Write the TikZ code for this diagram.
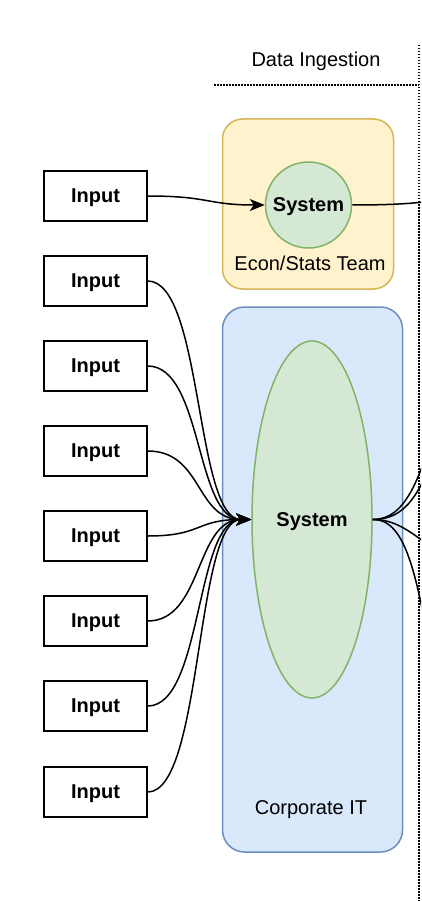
\documentclass[tikz,border=0pt]{standalone}
\usepackage{fontspec}
\setmainfont{Liberation Sans}
\usetikzlibrary{arrows.meta,shapes.geometric,calc}
\definecolor{yelfill}{HTML}{FFF2CC}
\definecolor{yeldraw}{HTML}{D6B656}
\definecolor{bluefill}{HTML}{DAE8FC}
\definecolor{bluedraw}{HTML}{6C8EBF}
\definecolor{grnfill}{HTML}{D5E8D4}
\definecolor{grndraw}{HTML}{82B366}
\begin{document}
\begin{tikzpicture}[x=1pt,y=-1pt,
  txt/.style={font=\fontsize{20}{24}\selectfont, inner sep=0pt, text depth=0pt},
  inbox/.style={draw=black, line width=1.5pt, fill=white, minimum width=103pt, minimum height=50pt, inner sep=0pt, text depth=0pt, font=\fontsize{20}{24}\selectfont\bfseries},
  grpY/.style={draw=yeldraw, fill=yelfill, line width=1.5pt, rounded corners=20pt, inner sep=0pt},
  grpB/.style={draw=bluedraw, fill=bluefill, line width=1.5pt, rounded corners=22pt, inner sep=0pt},
  sysnode/.style={draw=grndraw, fill=grnfill, line width=1.5pt, inner sep=0pt, text depth=0pt, font=\fontsize{20}{24}\selectfont\bfseries},
  conn/.style={draw=black, line width=1.5pt},
  arr/.style={conn, -{Stealth[length=15pt,width=12pt,inset=4pt]}},
  dotline/.style={draw=black, line width=1.5pt, dash pattern=on 1.5pt off 1.5pt}
]
\useasboundingbox (0,0) rectangle (421,901);
\clip (0,0) rectangle (421,901);

% groups
\node[grpY, minimum width=171pt, minimum height=170pt] (teamY) at (308,204) {};
\node[grpB, minimum width=180pt, minimum height=545pt] (teamB) at (312.5,579.5) {};
\node[txt] (lblEcon) at (310,263) {Econ/Stats Team};
\node[txt] (lblCorp) at (311,808) {Corporate IT};
\node[txt] (lblDI) at (316,59) {Data Ingestion};

% dotted separators
\coordinate (dv1) at (419,45);
\coordinate (dv2) at (419,905);
\coordinate (dh1) at (214,85);
\coordinate (dh2) at (419,85);
\draw[dotline] (dh1) -- (dh2);
\draw[dotline] (dv1) -- (dv2);

% systems
\node[sysnode, circle, minimum size=86pt] (sysA) at (308.5,205) {System};
\node[sysnode, ellipse, minimum width=120pt, minimum height=357pt] (sysB) at (312,519.5) {System};

% inputs
\node[inbox] (in1) at (95.5,196) {Input};
\node[inbox] (in2) at (95.5,281) {Input};
\node[inbox] (in3) at (95.5,366) {Input};
\node[inbox] (in4) at (95.5,451) {Input};
\node[inbox] (in5) at (95.5,536) {Input};
\node[inbox] (in6) at (95.5,621) {Input};
\node[inbox] (in7) at (95.5,706) {Input};
\node[inbox] (in8) at (95.5,792) {Input};

% input connectors
\draw[arr] (in1.east) .. controls ([xshift=62pt]in1.east) and ([xshift=-58pt]sysA.west) .. (sysA.west);
\foreach \i in {2,...,8}{
  \draw[arr] (in\i.east) .. controls ([xshift=55pt]in\i.east) and ([xshift=-56pt]sysB.west) .. (sysB.west);
}

% outgoing connectors (targets beyond the right edge)
\coordinate (o0) at (460,199);
\coordinate (o1) at (440,410);
\coordinate (o2) at (440,440);
\coordinate (o3) at (450,560);
\coordinate (o4) at (440,720);
\draw[conn] (sysA.east) .. controls ([xshift=78pt]sysA.east) and ([xshift=-32pt]o0) .. (o0);
\draw[conn] (sysB.east) .. controls ([xshift=33pt]sysB.east) and ($(o1)+(-20,70)$) .. (o1);
\draw[conn] (sysB.east) .. controls ([xshift=33pt]sysB.east) and ($(o2)+(-20,55)$) .. (o2);
\draw[conn] (sysB.east) .. controls ([xshift=28pt]sysB.east) and ($(o3)+(-35,-23)$) .. (o3);
\draw[conn] (sysB.east) .. controls ([xshift=33pt]sysB.east) and ($(o4)+(-21,-150)$) .. (o4);
\end{tikzpicture}
\end{document}
